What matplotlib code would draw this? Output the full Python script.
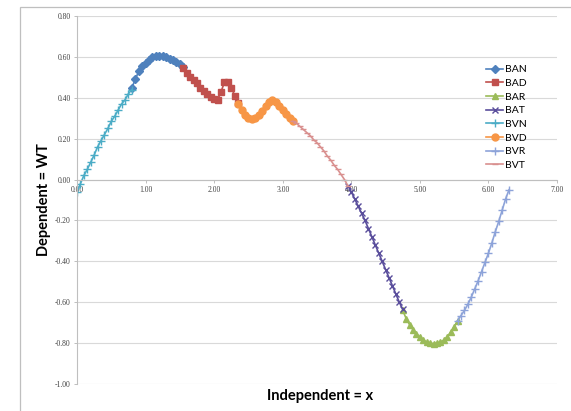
import matplotlib
matplotlib.use("Agg")
import matplotlib.pyplot as plt
from matplotlib.patches import Rectangle

# ---- data ----
x_bvn = [0.00, 0.05, 0.10, 0.15, 0.20, 0.25, 0.30, 0.35, 0.40, 0.45, 0.50, 0.55, 0.60, 0.65, 0.70, 0.75, 0.80]
y_bvn = [-0.06, -0.02, 0.02, 0.05, 0.085, 0.12, 0.16, 0.19, 0.22, 0.25, 0.285, 0.31, 0.34, 0.37, 0.39, 0.42, 0.44]

x_ban = [0.80, 0.85, 0.90, 0.95, 1.00, 1.05, 1.10, 1.15, 1.20, 1.25, 1.30, 1.35, 1.40, 1.45, 1.50, 1.55]
y_ban = [0.45, 0.49, 0.53, 0.555, 0.57, 0.585, 0.597, 0.603, 0.605, 0.603, 0.598, 0.592, 0.585, 0.575, 0.565, 0.552]

x_bad = [1.55, 1.60, 1.65, 1.70, 1.75, 1.80, 1.85, 1.90, 1.95, 2.00, 2.05, 2.10, 2.15, 2.20, 2.25, 2.30, 2.35]
y_bad = [0.545, 0.52, 0.50, 0.485, 0.47, 0.45, 0.435, 0.42, 0.405, 0.395, 0.39, 0.43, 0.475, 0.475, 0.45, 0.41, 0.375]

x_bvd = [2.35, 2.40, 2.45, 2.50, 2.55, 2.60, 2.65, 2.70, 2.75, 2.80, 2.85, 2.90, 2.95, 3.00, 3.05, 3.10, 3.15]
y_bvd = [0.37, 0.34, 0.315, 0.30, 0.295, 0.30, 0.315, 0.335, 0.36, 0.38, 0.39, 0.38, 0.36, 0.34, 0.32, 0.30, 0.285]

x_bvt = [3.15, 3.20, 3.25, 3.30, 3.35, 3.40, 3.45, 3.50, 3.55, 3.60, 3.65, 3.70, 3.75, 3.80, 3.85, 3.90, 3.95]
y_bvt = [0.285, 0.275, 0.26, 0.245, 0.23, 0.215, 0.195, 0.18, 0.16, 0.14, 0.115, 0.095, 0.07, 0.05, 0.025, 0.0, -0.03]

x_bat = [3.95, 4.00, 4.05, 4.10, 4.15, 4.20, 4.25, 4.30, 4.35, 4.40, 4.45, 4.50, 4.55, 4.60, 4.65, 4.70, 4.75]
y_bat = [-0.03, -0.06, -0.095, -0.13, -0.165, -0.20, -0.24, -0.28, -0.32, -0.36, -0.40, -0.44, -0.48, -0.52, -0.56, -0.60, -0.635]

x_bar = [4.75, 4.80, 4.85, 4.90, 4.95, 5.00, 5.05, 5.10, 5.15, 5.20, 5.25, 5.30, 5.35, 5.40, 5.45, 5.50, 5.55]
y_bar = [-0.64, -0.68, -0.71, -0.735, -0.755, -0.77, -0.785, -0.795, -0.80, -0.802, -0.80, -0.795, -0.785, -0.77, -0.745, -0.72, -0.69]

x_bvr = [5.55, 5.60, 5.65, 5.70, 5.75, 5.80, 5.85, 5.90, 5.95, 6.00, 6.05, 6.10, 6.15, 6.20, 6.25, 6.30]
y_bvr = [-0.69, -0.665, -0.64, -0.61, -0.575, -0.535, -0.495, -0.45, -0.405, -0.36, -0.31, -0.255, -0.205, -0.15, -0.095, -0.05]

x_ticks = [0, 1, 2, 3, 4, 5, 6, 7]
y_ticks = [-1.0, -0.8, -0.6, -0.4, -0.2, 0.0, 0.2, 0.4, 0.6, 0.8]

# legend order as in the chart
series = [
    ("BAN", x_ban, y_ban, "#4F81BD", "D", 4.5),
    ("BAD", x_bad, y_bad, "#C0504D", "s", 4.5),
    ("BAR", x_bar, y_bar, "#9BBB59", "^", 5),
    ("BAT", x_bat, y_bat, "#5A4E9C", "x", 4),
    ("BVN", x_bvn, y_bvn, "#4BACC6", "+", 5.5),
    ("BVD", x_bvd, y_bvd, "#F79646", "o", 5),
    ("BVR", x_bvr, y_bvr, "#8DA3D9", "+", 5.5),
    ("BVT", x_bvt, y_bvt, "#D9908F", "_", 4),
]

fig = plt.figure(figsize=(5.71, 4.11), dpi=100)
fig.patch.set_facecolor("white")

# chart-area border (Excel style)
fig.patches.append(Rectangle((0.035, -0.1), 1.2, 1.083, transform=fig.transFigure,
                             fill=False, edgecolor="#BFBFBF", linewidth=0.9))

ax = fig.add_axes([0.1349, 0.0657, 0.8406, 0.8954])

for name, xs, ys, col, mk, ms in series:
    ax.plot(xs, ys, color=col, marker=mk, markersize=ms, linewidth=1.2,
            markeredgewidth=1.0, label=name)

ax.set_xlim(0, 7)
ax.set_ylim(-1.0, 0.8)
ax.set_xticks(x_ticks)
ax.set_yticks(y_ticks)
ax.set_xticklabels([f"{v:.2f}" for v in x_ticks])
ax.set_yticklabels([f"{v:.2f}" for v in y_ticks])

ax.grid(axis="y", color="#D9D9D9", linewidth=0.8)
ax.set_axisbelow(True)
for s in ["top", "right"]:
    ax.spines[s].set_visible(False)
ax.spines["bottom"].set_position(("data", 0))
ax.spines["bottom"].set_color("#BFBFBF")
ax.spines["left"].set_color("#BFBFBF")
ax.tick_params(axis="both", colors="#BFBFBF", labelcolor="#404040", labelsize=5.5,
               length=2.5, width=0.7, pad=2)
for lab in ax.get_xticklabels() + ax.get_yticklabels():
    lab.set_family("Liberation Serif")

ax.set_xlabel("Independent = x", fontsize=10.5, fontweight="bold", family="Lato")
ax.set_ylabel("Dependent = WT", fontsize=10.5, fontweight="bold", family="Lato")
ax.xaxis.set_label_coords(0.506, -0.014)
ax.yaxis.set_label_coords(-0.055, 0.5)

ax.legend(loc="upper left", bbox_to_anchor=(0.852, 0.842), bbox_transform=fig.transFigure,
          frameon=False, prop={"family": "Lato", "size": 7.5}, handlelength=1.6,
          handletextpad=0.2, labelspacing=0.42, borderpad=0, borderaxespad=0)

fig.savefig("out.png", dpi=100)
